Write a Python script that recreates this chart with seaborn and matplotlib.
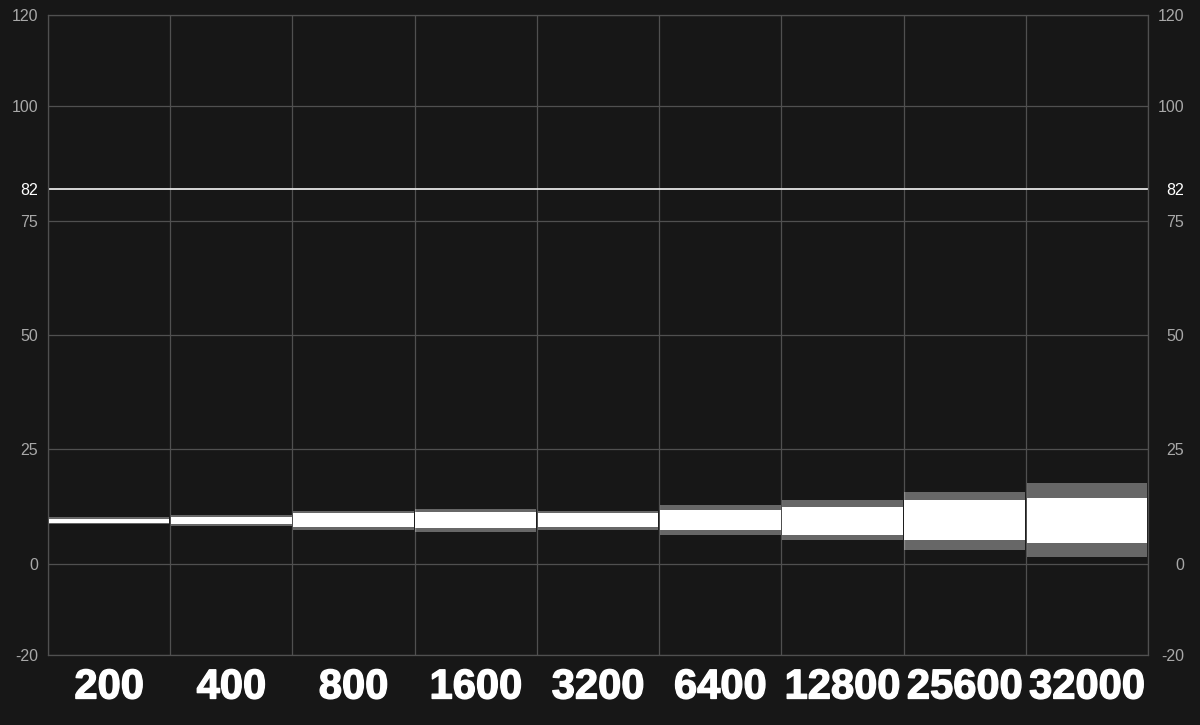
import matplotlib
matplotlib.use('Agg')
import matplotlib.pyplot as plt
import matplotlib.patheffects as pe
import seaborn as sns
import pandas as pd

# ISO noise bands
iso_labels = ["200", "400", "800", "1600", "3200", "6400", "12800", "25600", "32000"]
core_low = [8.9, 8.7, 8.0, 7.8, 8.0, 7.3, 6.3, 5.1, 4.5]
core_high = [9.8, 10.2, 11.0, 11.3, 11.0, 11.7, 12.4, 13.9, 14.3]
peak_low = [8.6, 8.3, 7.4, 7.0, 7.4, 6.3, 5.2, 3.0, 1.5]
peak_high = [10.1, 10.6, 11.6, 12.0, 11.6, 12.8, 13.9, 15.7, 17.6]
grid_ticks = [-20, 0, 25, 50, 75, 100, 120]
ref_level = 82

BG = '#171717'
GRID = '#505050'
TICK = '#a8a8a8'

df = pd.DataFrame({
    'iso': iso_labels,
    'core_low': core_low, 'core_high': core_high,
    'peak_low': peak_low, 'peak_high': peak_high,
})
df['pos'] = range(len(df))

sns.set_theme(style='dark', rc={
    'figure.facecolor': BG, 'axes.facecolor': BG,
    'axes.edgecolor': GRID, 'grid.color': GRID,
})
plt.rcParams['font.family'] = ['Liberation Sans', 'DejaVu Sans']
plt.rcParams['axes.unicode_minus'] = False

fig = plt.figure(figsize=(12, 7.25), dpi=100)
ax = fig.add_axes([0.04, 0.0966, 0.9167, 0.8827])

gap = 0.006
for _, r in df.iterrows():
    xs = [r['pos'] + gap, r['pos'] + 1 - gap]
    ax.fill_between(xs, r['peak_low'], r['peak_high'], color='white', alpha=0.35, lw=0, zorder=3)
    ax.fill_between(xs, r['core_low'], r['core_high'], color='white', lw=0, zorder=4)

ax.axhline(ref_level, color='#e6e6e6', lw=1.3, zorder=2)

ax.set_xlim(0, len(df))
ax.set_ylim(-20, 120)
ax.set_xticks([p + 0.5 for p in df['pos']], iso_labels)
yticks = sorted(grid_ticks + [ref_level])
ax.set_yticks(yticks)

ax.grid(False)
for t in grid_ticks:
    ax.axhline(t, color=GRID, lw=0.9, zorder=1)
for x in range(len(df) + 1):
    ax.axvline(x, color=GRID, lw=0.9, zorder=1)
for s in ax.spines.values():
    s.set_color(GRID)
    s.set_linewidth(0.9)

ax.tick_params(axis='x', which='both', length=0, pad=9, labelsize=30, labelcolor='white')
for lbl in ax.get_xticklabels():
    lbl.set_fontweight('bold')
    lbl.set_path_effects([pe.withStroke(linewidth=1.0, foreground='white')])
ax.tick_params(axis='y', length=0, pad=7, labelsize=11.5, labelcolor=TICK)

ax2 = ax.twinx()
ax2.set_ylim(ax.get_ylim())
ax2.set_yticks(yticks)
ax2.grid(False)
ax2.tick_params(axis='y', length=0, pad=26, labelsize=11.5, labelcolor=TICK)
for lbl in ax2.get_yticklabels():
    lbl.set_horizontalalignment('right')
for s in ax2.spines.values():
    s.set_visible(False)

for a in (ax, ax2):
    for val, lbl in zip(yticks, a.get_yticklabels()):
        if val == ref_level:
            lbl.set_color('white')

fig.savefig('out.png', dpi=100, facecolor=BG)
plt.close(fig)
